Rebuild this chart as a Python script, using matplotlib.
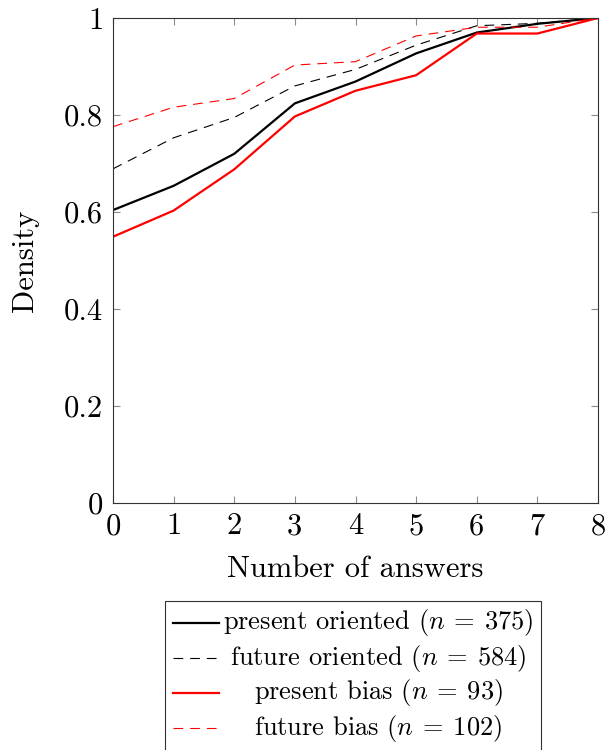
import matplotlib
matplotlib.use("Agg")
import matplotlib.pyplot as plt
from matplotlib.lines import Line2D
from matplotlib.patches import Rectangle

plt.rcParams['font.family'] = 'serif'
plt.rcParams['font.serif'] = ['cmr10']
plt.rcParams['mathtext.fontset'] = 'cm'
plt.rcParams['axes.formatter.use_mathtext'] = True
plt.rcParams['lines.scale_dashes'] = False

answers = [0, 1, 2, 3, 4, 5, 6, 7, 8]
present_oriented = [0.604, 0.654, 0.720, 0.824, 0.869, 0.927, 0.970, 0.988, 1.0]
future_oriented = [0.689, 0.753, 0.795, 0.860, 0.894, 0.944, 0.984, 0.989, 1.0]
present_bias = [0.549, 0.603, 0.688, 0.797, 0.850, 0.882, 0.968, 0.968, 1.0]
future_bias = [0.776, 0.816, 0.834, 0.903, 0.910, 0.963, 0.981, 0.981, 1.0]
labels = [r'present oriented ($n\:=\:375$)', r'future oriented ($n\:=\:584$)',
          r'present bias ($n\:=\:93$)', r'future bias ($n\:=\:102$)']
yticks = [0, 0.2, 0.4, 0.6, 0.8, 1]
yticklabels = ['0', '0.2', '0.4', '0.6', '0.8', '1']

W, H = 608, 750
fig = plt.figure(figsize=(W/100, H/100), dpi=100)
ax = fig.add_axes([113/W, 1-503/H, (598-113)/W, (503-18)/H])

styles = [dict(color='black', lw=1.6, ls='-'),
          dict(color='black', lw=0.8, dashes=(7, 5)),
          dict(color='red', lw=1.6, ls='-'),
          dict(color='red', lw=0.8, dashes=(7, 5))]
series = [present_oriented, future_oriented, present_bias, future_bias]
for s, st in zip(series, styles):
    ax.plot(answers, s, **st)

ax.set_xlim(0, 8)
ax.set_ylim(0, 1)
ax.set_xticks(answers)
ax.set_xticklabels([str(a) for a in answers])
ax.set_yticks(yticks)
ax.set_yticklabels(yticklabels)
ax.tick_params(direction='in', length=5, width=0.8, color='0.55',
               top=True, right=True, labelsize=22, pad=7)
for sp in ax.spines.values():
    sp.set_linewidth(0.8)
    sp.set_color('0.2')
ax.set_xlabel('Number of answers', fontsize=22, labelpad=11)
ax.set_ylabel('Density', fontsize=22, labelpad=18)

# legend drawn as a box below the axes
lx0, lx1 = 165, 541
ly0 = 601
fig.patches.append(Rectangle((lx0/W, 1-800/H), (lx1-lx0)/W, (800-ly0)/H,
                             transform=fig.transFigure, fill=False,
                             edgecolor='0.2', lw=0.8))
rows = [623, 658, 693, 728]
for lab, st, ry in zip(labels, styles, rows):
    yy = 1 - ry/H
    fig.lines.append(Line2D([173/W, 219/W], [yy, yy], transform=fig.transFigure, **st))
    fig.text(378/W, yy, lab, ha='center', va='center', fontsize=19)

fig.savefig('out.png', dpi=100)
